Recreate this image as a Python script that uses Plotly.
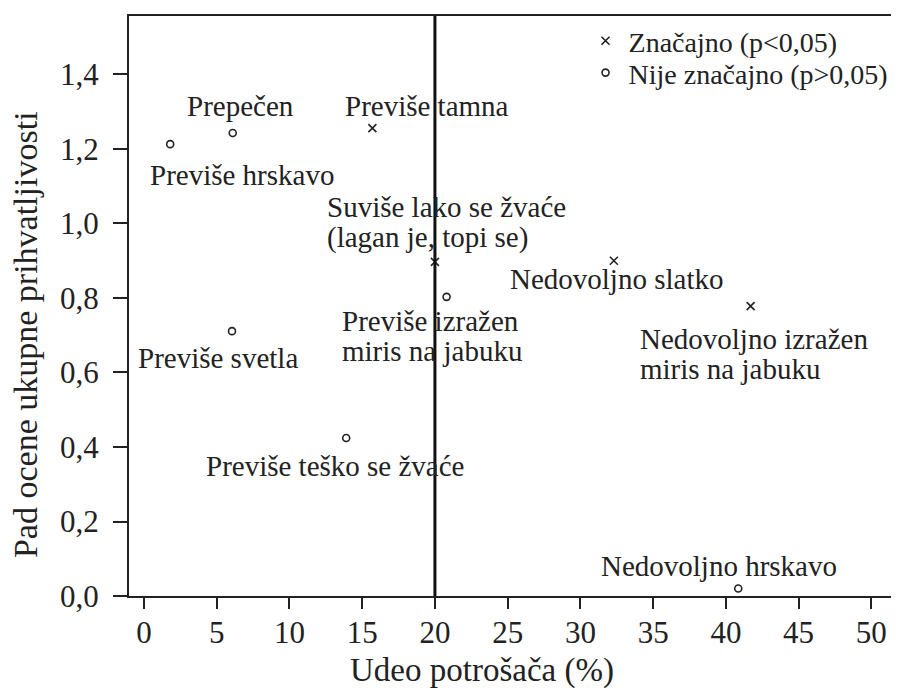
import plotly.graph_objects as go

# Značajno (p<0,05)
sig_x = [15.7, 20.0, 32.3, 41.7]
sig_y = [1.256, 0.897, 0.900, 0.778]
# Nije značajno (p>0,05)
ns_x = [1.8, 6.1, 6.05, 13.9, 20.8, 40.85]
ns_y = [1.213, 1.243, 0.711, 0.424, 0.803, 0.02]

# point labels (one entry per label, lines split)
lab_lines = [["Prepečen"], ["Previše hrskavo"], ["Previše tamna"],
             ["Suviše lako se žvaće", "(lagan je, topi se)"], ["Nedovoljno slatko"],
             ["Previše izražen", "miris na jabuku"], ["Nedovoljno izražen", "miris na jabuku"],
             ["Previše svetla"], ["Previše teško se žvaće"], ["Nedovoljno hrskavo"]]
lab_x = [6.64, 6.77, 19.46, 12.45, 32.5, 13.48, 33.98, 5.09, 13.14, 39.55]
lab_y = [1.315, 1.13, 1.315, 1.004, 0.851, 0.698, 0.65, 0.639, 0.349, 0.081]
lab_anchor = ["center", "center", "center", "left", "center", "left", "left",
              "center", "center", "center"]

FONT = "Liberation Serif, Times New Roman, serif"
INK = "#222"
LINE_H = 30  # px between label lines

fig = go.Figure()
fig.add_trace(go.Scatter(x=sig_x, y=sig_y, mode="markers", name="Značajno (p<0,05)", legend="legend",
                         marker=dict(symbol="x-thin", size=8, line=dict(width=1.6, color=INK), color=INK)))
fig.add_trace(go.Scatter(x=ns_x, y=ns_y, mode="markers", name="Nije značajno (p>0,05)", legend="legend2",
                         marker=dict(symbol="circle-open", size=7, line=dict(width=1.6, color=INK), color=INK)))
fig.add_vline(x=20, line_width=3, line_color="#111")

for lines, x, y, a in zip(lab_lines, lab_x, lab_y, lab_anchor):
    n = len(lines)
    for i, t in enumerate(lines):
        fig.add_annotation(x=x, y=y, text=t, showarrow=False, xanchor=a, yanchor="middle",
                           yshift=((n - 1) / 2 - i) * LINE_H,
                           font=dict(size=29, family=FONT, color=INK))

# axis titles
fig.add_annotation(x=0.458, y=-0.128, xref="paper", yref="paper", text="Udeo potrošača (%)",
                   showarrow=False, xanchor="center", yanchor="middle",
                   font=dict(size=33, family=FONT, color=INK))
fig.add_annotation(x=-0.135, y=0.45, xref="paper", yref="paper",
                   text="Pad ocene ukupne prihvatljivosti", textangle=-90, showarrow=False,
                   xanchor="center", yanchor="middle", font=dict(size=34, family=FONT, color=INK))

leg = dict(xanchor="left", yanchor="top", bgcolor="rgba(0,0,0,0)", itemwidth=36,
           font=dict(size=28, family=FONT, color=INK))
fig.update_layout(
    width=891, height=682,
    margin=dict(l=121, r=0, t=8, b=94),
    paper_bgcolor="white", plot_bgcolor="white",
    separators=",.",
    font=dict(family=FONT, color=INK),
    legend=dict(leg, x=0.589, y=1.0),
    legend2=dict(leg, x=0.589, y=0.945),
    showlegend=True,
)
fig.update_xaxes(range=[-1.03, 51.9], tickvals=list(range(0, 51, 5)), showgrid=False, zeroline=False,
                 showline=True, linecolor=INK, linewidth=2, mirror=True,
                 ticks="outside", ticklen=11, tickwidth=2, tickcolor=INK, ticklabelstandoff=-3,
                 tickfont=dict(size=31, family=FONT, color=INK))
fig.update_yaxes(range=[0, 1.557], tickvals=[0, 0.2, 0.4, 0.6, 0.8, 1.0, 1.2, 1.4], tickformat=".1f",
                 showgrid=False, zeroline=False, showline=True, linecolor=INK, linewidth=2,
                 ticks="outside", ticklen=14, tickwidth=2, tickcolor=INK, ticklabelstandoff=8,
                 tickfont=dict(size=31, family=FONT, color=INK))

fig.write_html("out.html")
